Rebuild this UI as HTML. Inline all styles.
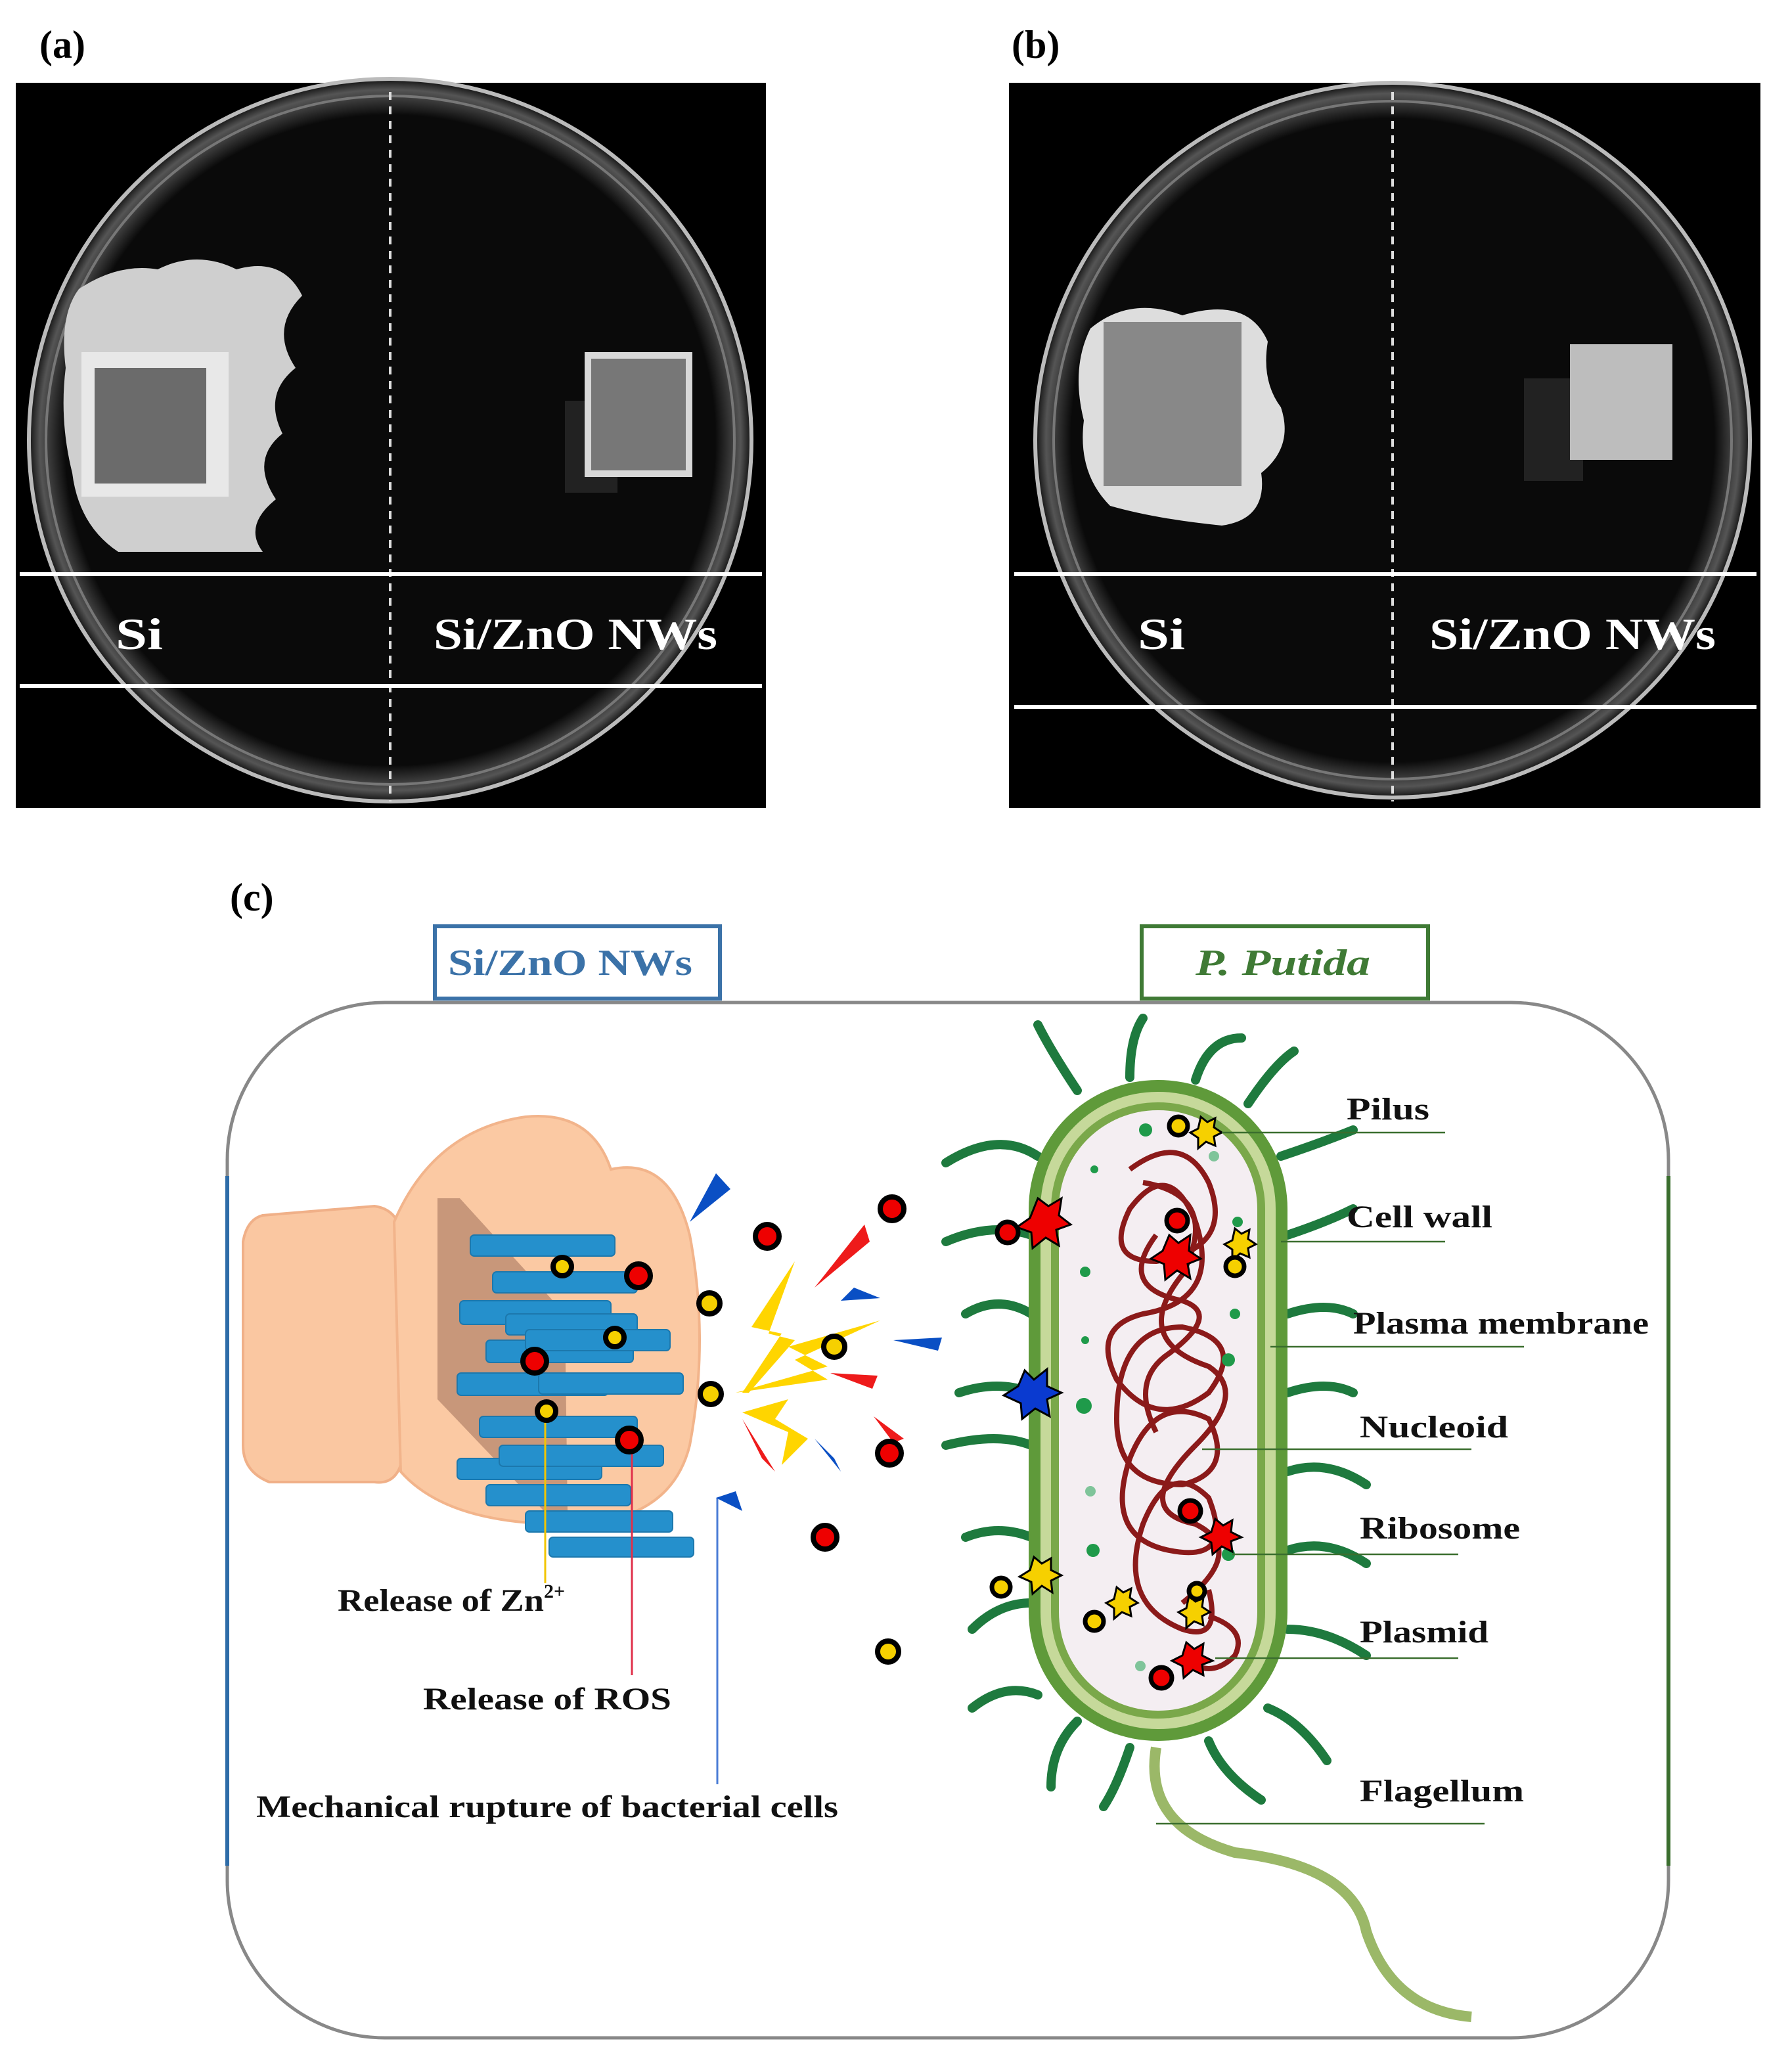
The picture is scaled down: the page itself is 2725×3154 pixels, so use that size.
<!DOCTYPE html>
<html><head><meta charset="utf-8"><style>
html,body{margin:0;padding:0;background:#fff;}
svg{display:block;}
text{font-family:"Liberation Serif",serif;}
</style></head><body>
<svg width="2725" height="3154" viewBox="0 0 1362.5 1577" xmlns="http://www.w3.org/2000/svg">
<defs>
<radialGradient id="plate" cx="0.5" cy="0.5" r="0.5">
<stop offset="0.9" stop-color="#0a0a0a"/><stop offset="0.97" stop-color="#555"/><stop offset="1" stop-color="#111"/>
</radialGradient>
</defs>
<text x="30" y="44" font-size="30" font-weight="bold">(a)</text>
<text x="770" y="44" font-size="30" font-weight="bold">(b)</text>
<text x="175" y="693" font-size="30" font-weight="bold">(c)</text>

<!-- panel a -->
<rect x="12" y="63" width="571" height="552" fill="#000"/>
<circle cx="297" cy="335" r="275" fill="url(#plate)" stroke="#bbb" stroke-width="3"/>
<circle cx="297" cy="335" r="262" fill="none" stroke="#777" stroke-width="2"/>
<path d="M60,220 Q90,200 120,205 Q150,190 180,205 Q215,195 230,225 Q205,250 225,280 Q200,300 215,330 Q190,350 210,380 Q185,400 200,420 L90,420 Q60,400 55,360 Q45,320 50,280 Q45,240 60,220Z" fill="#cfcfcf"/>
<rect x="62" y="268" width="112" height="110" fill="#e8e8e8"/>
<rect x="72" y="280" width="85" height="88" fill="#6b6b6b"/>
<rect x="430" y="305" width="40" height="70" fill="#222"/>
<rect x="445" y="268" width="82" height="95" fill="#d8d8d8"/>
<rect x="450" y="273" width="72" height="85" fill="#777"/>
<line x1="297" y1="70" x2="297" y2="610" stroke="#ddd" stroke-width="2" stroke-dasharray="6,5"/>
<line x1="15" y1="437" x2="580" y2="437" stroke="#fff" stroke-width="3"/>
<line x1="15" y1="522" x2="580" y2="522" stroke="#fff" stroke-width="3"/>
<text x="88" y="494" font-size="34" font-weight="bold" fill="#fff" textLength="36" lengthAdjust="spacingAndGlyphs">Si</text>
<text x="330" y="494" font-size="34" font-weight="bold" fill="#fff" textLength="216" lengthAdjust="spacingAndGlyphs">Si/ZnO NWs</text>

<!-- panel b -->
<rect x="768" y="63" width="572" height="552" fill="#000"/>
<circle cx="1060" cy="335" r="272" fill="url(#plate)" stroke="#bbb" stroke-width="3"/>
<circle cx="1060" cy="335" r="258" fill="none" stroke="#777" stroke-width="2"/>
<path d="M830,250 Q860,225 900,240 Q950,225 965,260 Q960,290 975,310 Q985,340 960,360 Q965,395 930,400 Q880,395 845,385 Q820,360 825,320 Q815,280 830,250Z" fill="#ddd"/>
<rect x="840" y="245" width="105" height="125" fill="#888"/>
<rect x="1160" y="288" width="45" height="78" fill="#222"/>
<rect x="1195" y="262" width="78" height="88" fill="#bdbdbd"/>
<line x1="1060" y1="70" x2="1060" y2="610" stroke="#ddd" stroke-width="2" stroke-dasharray="6,5"/>
<line x1="772" y1="437" x2="1337" y2="437" stroke="#fff" stroke-width="3"/>
<line x1="772" y1="538" x2="1337" y2="538" stroke="#fff" stroke-width="3"/>
<text x="866" y="494" font-size="34" font-weight="bold" fill="#fff" textLength="36" lengthAdjust="spacingAndGlyphs">Si</text>
<text x="1088" y="494" font-size="34" font-weight="bold" fill="#fff" textLength="218" lengthAdjust="spacingAndGlyphs">Si/ZnO NWs</text>

<!-- panel c frame -->
<rect x="173" y="763" width="1097" height="788" rx="120" fill="none" stroke="#888" stroke-width="2.5"/>
<line x1="173" y1="895" x2="173" y2="1420" stroke="#2e6ca8" stroke-width="3"/>
<line x1="1270" y1="895" x2="1270" y2="1420" stroke="#3a6e2e" stroke-width="3"/>
<rect x="331" y="705" width="217" height="55" fill="#fff" stroke="#3b72a8" stroke-width="3"/>
<text x="341" y="742" font-size="28" font-weight="bold" fill="#3b72a8" textLength="186" lengthAdjust="spacingAndGlyphs">Si/ZnO NWs</text>
<rect x="869" y="705" width="218" height="55" fill="#fff" stroke="#3f7a35" stroke-width="3"/>
<text x="910" y="742" font-size="28" font-weight="bold" font-style="italic" fill="#3f7a35" textLength="133" lengthAdjust="spacingAndGlyphs">P. Putida</text>

<!-- glove -->
<path d="M200,925 L285,918 Q300,920 305,935 L305,1115 Q300,1130 285,1128 L205,1128 Q185,1120 185,1100 L185,945 Q188,928 200,925Z" fill="#fac7a1" stroke="#f0b088" stroke-width="2"/>
<path d="M300,930 Q330,860 400,850 Q450,845 465,890 Q510,880 525,940 Q540,1020 525,1100 Q510,1160 430,1160 Q340,1160 305,1120Z" fill="#fbc9a3" stroke="#f2b48b" stroke-width="2"/>
<polygon points="333,912 350,912 430,1000 432,1150 414,1150 333,1065" fill="#c8977a"/>
<g fill="#2590cc" stroke="#1c78ad" stroke-width="1">
<rect x="358" y="940" width="110" height="16" rx="3"/>
<rect x="375" y="968" width="110" height="16" rx="3"/>
<rect x="350" y="990" width="115" height="18" rx="3"/>
<rect x="385" y="1000" width="100" height="16" rx="3"/>
<rect x="370" y="1020" width="112" height="17" rx="3"/>
<rect x="400" y="1012" width="110" height="16" rx="3"/>
<rect x="348" y="1045" width="115" height="17" rx="3"/>
<rect x="410" y="1045" width="110" height="16" rx="3"/>
<rect x="365" y="1078" width="120" height="16" rx="3"/>
<rect x="348" y="1110" width="110" height="16" rx="3"/>
<rect x="380" y="1100" width="125" height="16" rx="3"/>
<rect x="370" y="1130" width="110" height="16" rx="3"/>
<rect x="400" y="1150" width="112" height="16" rx="3"/>
<rect x="418" y="1170" width="110" height="15" rx="3"/>
</g>
<line x1="415" y1="1075" x2="415" y2="1205" stroke="#f2c500" stroke-width="1.5"/>
<line x1="481" y1="1095" x2="481" y2="1275" stroke="#e0304a" stroke-width="1.5"/>
<line x1="546" y1="1140" x2="546" y2="1358" stroke="#4a7cd6" stroke-width="1.5"/>

<g fill="#0a4fc4">
<polygon points="545,893 556,905 525,930"/>
<polygon points="650,980 670,988 640,990"/>
<polygon points="680,1020 717,1018 714,1028"/>
<polygon points="620,1095 635,1110 640,1120"/>
<polygon points="545,1140 560,1135 565,1150"/>
</g>
<g fill="#ee1b1b">
<polygon points="658,932 662,945 620,980"/>
<polygon points="632,1045 668,1047 664,1057"/>
<polygon points="665,1078 688,1095 680,1098"/>
<polygon points="565,1080 580,1110 590,1120"/>
</g>
<g fill="#ffd500">
<polygon points="605,960 572,1010 595,1015 565,1060 570,1060 605,1020 585,1015"/>
<polygon points="670,1005 600,1025 630,1040 560,1060 630,1050 605,1035"/>
<polygon points="565,1075 600,1090 595,1115 615,1095 590,1080 600,1065"/>
</g>
<g stroke="#000" stroke-width="4">
<circle cx="679" cy="920" r="9" fill="#e00"/>
<circle cx="584" cy="941" r="9" fill="#e00"/>
<circle cx="486" cy="971" r="9" fill="#e00"/>
<circle cx="407" cy="1036" r="9" fill="#e00"/>
<circle cx="479" cy="1096" r="9" fill="#e00"/>
<circle cx="677" cy="1106" r="9" fill="#e00"/>
<circle cx="628" cy="1170" r="9" fill="#e00"/>
<circle cx="428" cy="964" r="7" fill="#f6d000"/>
<circle cx="540" cy="992" r="8" fill="#f6d000"/>
<circle cx="468" cy="1018" r="7" fill="#f6d000"/>
<circle cx="635" cy="1025" r="8" fill="#f6d000"/>
<circle cx="541" cy="1061" r="8" fill="#f6d000"/>
<circle cx="416" cy="1074" r="7" fill="#f6d000"/>
<circle cx="676" cy="1257" r="8" fill="#f6d000"/>
</g>

<g stroke="#1e7a3e" stroke-width="7" fill="none" stroke-linecap="round">
<path d="M790,880 Q760,860 720,885"/><path d="M785,940 Q755,930 720,945"/>
<path d="M785,1000 Q760,985 735,1000"/><path d="M785,1060 Q760,1050 730,1060"/>
<path d="M785,1100 Q760,1090 720,1100"/><path d="M785,1170 Q760,1160 735,1170"/>
<path d="M785,1220 Q760,1220 740,1240"/><path d="M790,1290 Q765,1280 740,1300"/>
<path d="M820,830 Q800,800 790,780"/><path d="M860,820 Q860,790 870,775"/>
<path d="M910,822 Q920,790 945,790"/><path d="M950,840 Q970,810 985,800"/>
<path d="M975,880 Q1005,870 1030,860"/><path d="M980,940 Q1010,930 1030,920"/>
<path d="M980,1000 Q1010,990 1030,1000"/><path d="M980,1060 Q1010,1050 1030,1060"/>
<path d="M980,1120 Q1010,1110 1040,1130"/><path d="M980,1180 Q1010,1170 1040,1190"/>
<path d="M980,1240 Q1010,1240 1040,1260"/><path d="M965,1300 Q990,1310 1010,1340"/>
<path d="M920,1325 Q930,1350 960,1370"/><path d="M860,1330 Q850,1360 840,1375"/>
<path d="M820,1310 Q800,1330 800,1360"/>
</g>
<path d="M880,1330 Q870,1390 940,1410 Q1030,1420 1040,1470 Q1060,1530 1120,1535" fill="none" stroke="#9bb868" stroke-width="8"/>
<rect x="783" y="822" width="197" height="503" rx="98" fill="#5f9a3a"/>
<rect x="792" y="831" width="179" height="485" rx="89" fill="#c6d99a"/>
<rect x="800" y="839" width="163" height="469" rx="81" fill="#7aa84a"/>
<rect x="806" y="845" width="151" height="457" rx="75" fill="#f4eef2"/>
<g fill="none" stroke="#8b1a1a" stroke-width="4">
<path d="M860,890 Q900,860 920,900 Q940,950 880,960 Q840,960 860,920 Q890,880 910,930 Q930,990 870,1000 Q830,1010 850,1050 Q880,1090 920,1060 Q950,1020 900,1010 Q850,1010 850,1080 Q850,1130 900,1130 Q940,1120 920,1080 Q880,1060 860,1110 Q840,1170 890,1180 Q940,1190 920,1140 Q890,1110 870,1160 Q850,1220 900,1240 Q930,1250 920,1210"/>
<path d="M870,900 Q930,910 900,970 Q860,1020 920,1040 Q950,1060 910,1100 Q860,1150 910,1160 Q950,1180 900,1220"/>
<path d="M880,940 Q850,980 900,990 Q930,1000 890,1030 Q860,1050 880,1090"/>
<path d="M920,1230 Q950,1240 940,1260 Q920,1280 900,1260"/>
</g>
<g fill="#1f9a4a">
<circle cx="872" cy="860" r="5"/><circle cx="942" cy="930" r="4"/><circle cx="826" cy="968" r="4"/>
<circle cx="940" cy="1000" r="4"/><circle cx="935" cy="1035" r="5"/><circle cx="826" cy="1020" r="3"/>
<circle cx="825" cy="1070" r="6"/><circle cx="832" cy="1180" r="5"/><circle cx="935" cy="1183" r="5"/>
<circle cx="830" cy="1135" r="4" fill="#7fc49a"/><circle cx="924" cy="880" r="4" fill="#7fc49a"/>
<circle cx="868" cy="1268" r="4" fill="#7fc49a"/><circle cx="833" cy="890" r="3"/>
</g>
<g stroke="#000" stroke-width="1.5">
<polygon points="790,912 798,918 808,912 806,925 815,932 804,936 806,948 796,942 786,950 785,938 774,934 784,927" fill="#e00"/>
<polygon points="890,940 897,946 906,940 905,952 914,958 904,962 906,973 896,967 887,974 886,962 876,958 885,952" fill="#e00"/>
<polygon points="780,1043 787,1050 797,1042 797,1055 808,1060 797,1065 799,1078 788,1072 778,1080 777,1068 764,1062 775,1055" fill="#0a3ad0"/>
<polygon points="787,1185 793,1190 800,1186 800,1195 808,1199 800,1203 801,1212 793,1207 786,1213 785,1204 776,1200 784,1195" fill="#f6d000"/>
<polygon points="914,850 919,854 925,851 924,858 930,862 924,865 925,872 918,869 912,874 912,866 906,862 912,859" fill="#f6d000"/>
<polygon points="940,935 945,939 951,936 950,943 956,947 950,950 951,957 944,954 938,959 938,951 932,947 938,944" fill="#f6d000"/>
<polygon points="925,1156 931,1161 938,1157 937,1166 945,1170 937,1173 938,1181 930,1177 923,1183 922,1174 914,1170 922,1166" fill="#e00"/>
<polygon points="903,1250 909,1255 916,1251 915,1260 923,1264 915,1267 916,1275 908,1271 901,1277 900,1268 892,1264 900,1260" fill="#e00"/>
<polygon points="850,1208 855,1212 861,1209 860,1216 866,1220 860,1223 861,1230 854,1227 848,1232 848,1224 842,1220 848,1217" fill="#f6d000"/>
<polygon points="905,1215 910,1219 916,1216 915,1223 921,1227 915,1230 916,1237 909,1234 903,1239 903,1231 897,1227 903,1224" fill="#f6d000"/>
</g>
<g stroke="#000" stroke-width="3.5">
<circle cx="767" cy="938" r="8" fill="#e00"/><circle cx="896" cy="929" r="8" fill="#e00"/>
<circle cx="906" cy="1150" r="8" fill="#e00"/><circle cx="884" cy="1277" r="8" fill="#e00"/>
<circle cx="897" cy="857" r="7" fill="#f6d000"/><circle cx="940" cy="964" r="7" fill="#f6d000"/>
<circle cx="762" cy="1208" r="7" fill="#f6d000"/><circle cx="833" cy="1234" r="7" fill="#f6d000"/>
<circle cx="911" cy="1211" r="6" fill="#f6d000"/>
</g>
<g stroke="#3a6e2e" stroke-width="1.2">
<line x1="930" y1="862" x2="1100" y2="862"/><line x1="975" y1="945" x2="1100" y2="945"/>
<line x1="967" y1="1025" x2="1160" y2="1025"/><line x1="915" y1="1103" x2="1120" y2="1103"/>
<line x1="938" y1="1183" x2="1110" y2="1183"/><line x1="925" y1="1262" x2="1110" y2="1262"/>
<line x1="880" y1="1388" x2="1130" y2="1388"/>
</g>
<g font-size="24" font-weight="bold" fill="#111" lengthAdjust="spacingAndGlyphs">
<text x="1025" y="852" textLength="63" lengthAdjust="spacingAndGlyphs">Pilus</text>
<text x="1025" y="934" textLength="111" lengthAdjust="spacingAndGlyphs">Cell wall</text>
<text x="1030" y="1015" textLength="225" lengthAdjust="spacingAndGlyphs">Plasma membrane</text>
<text x="1035" y="1094" textLength="113" lengthAdjust="spacingAndGlyphs">Nucleoid</text>
<text x="1035" y="1171" textLength="122" lengthAdjust="spacingAndGlyphs">Ribosome</text>
<text x="1035" y="1250" textLength="98" lengthAdjust="spacingAndGlyphs">Plasmid</text>
<text x="1035" y="1371" textLength="125" lengthAdjust="spacingAndGlyphs">Flagellum</text>
<text x="257" y="1226"><tspan textLength="157" lengthAdjust="spacingAndGlyphs">Release of Zn</tspan><tspan font-size="15" dy="-10">2+</tspan></text>
<text x="322" y="1301" textLength="189" lengthAdjust="spacingAndGlyphs">Release of ROS</text>
<text x="195" y="1383" textLength="443" lengthAdjust="spacingAndGlyphs">Mechanical rupture of bacterial cells</text>
</g>
</svg>
</body></html>
